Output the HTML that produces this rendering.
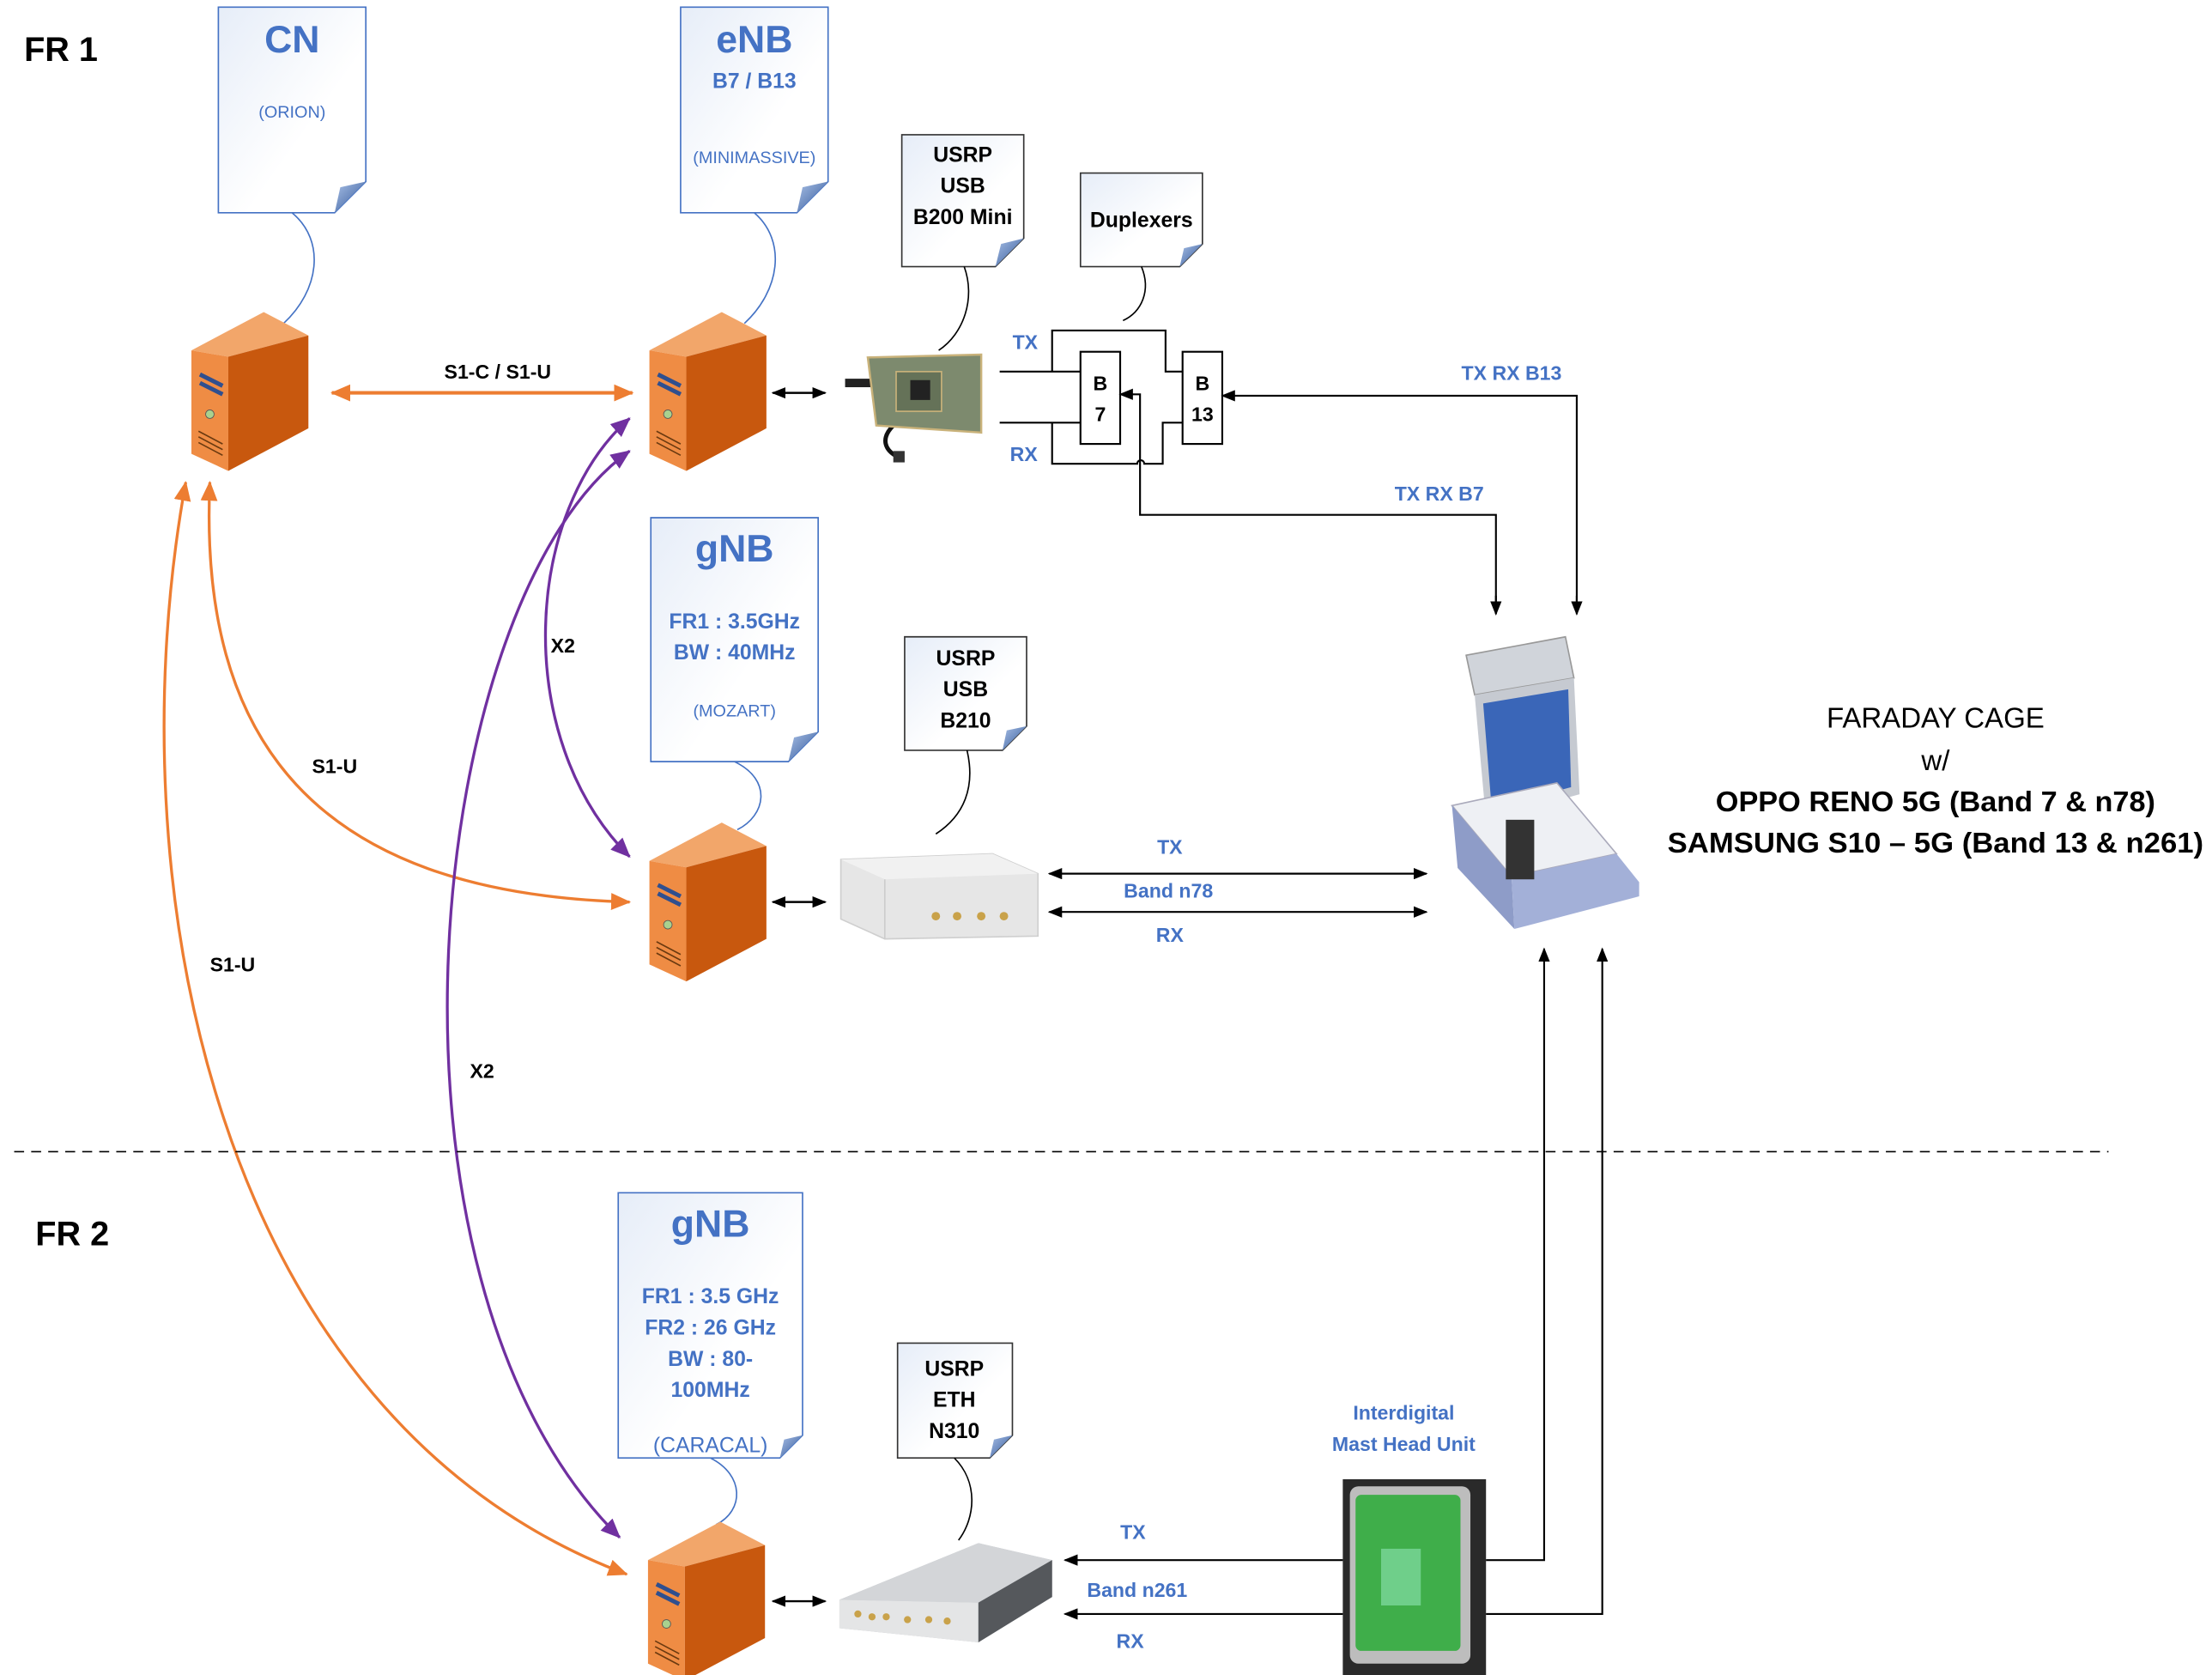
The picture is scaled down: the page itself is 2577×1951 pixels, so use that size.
<!DOCTYPE html>
<html><head><meta charset="utf-8"><style>
html,body{margin:0;padding:0;background:#fff}
svg{display:block}
text{font-family:"Liberation Sans",sans-serif}
.b{fill:#4472c4;font-weight:bold}
.k{fill:#000;font-weight:bold}
</style></head><body>
<svg width="2577" height="1951" viewBox="0 0 1560 1181" xmlns="http://www.w3.org/2000/svg">
<defs>
<linearGradient id="doc" x1="0" y1="0" x2="1" y2="1">
<stop offset="0" stop-color="#e6edf8"/><stop offset="0.6" stop-color="#ffffff"/><stop offset="1" stop-color="#ffffff"/></linearGradient>
<linearGradient id="fold" x1="0" y1="0" x2="1" y2="1"><stop offset="0" stop-color="#a9c0e6"/><stop offset="1" stop-color="#2f5597"/></linearGradient>
<marker id="ak" markerWidth="10" markerHeight="8" refX="9" refY="4" orient="auto-start-reverse" markerUnits="userSpaceOnUse"><path d="M0,0 L10,4 L0,8z" fill="#000"/></marker>
<marker id="ao" markerWidth="14" markerHeight="12" refX="13" refY="6" orient="auto-start-reverse" markerUnits="userSpaceOnUse"><path d="M0,0 L14,6 L0,12z" fill="#ed7d31"/></marker>
<marker id="ap" markerWidth="14" markerHeight="12" refX="13" refY="6" orient="auto-start-reverse" markerUnits="userSpaceOnUse"><path d="M0,0 L14,6 L0,12z" fill="#7030a0"/></marker>
<g id="srv">
<polygon points="51,0 0,27 26,31.5 82.5,16.5" fill="#f2a66a"/>
<polygon points="0,27 26,31.5 26,112 0,100" fill="#ef8c44"/>
<polygon points="26,31.5 82.5,16.5 82.5,82 26,112" fill="#c8580e"/>
<path d="M6,44 L22,52 M6,50 L22,58" stroke="#2f4f8f" stroke-width="3"/>
<circle cx="13" cy="72" r="3" fill="#a9d18e" stroke="#555" stroke-width="0.5"/>
<path d="M5,84 L22,93 M5,88 L22,97 M5,92 L22,101" stroke="#6b3a10" stroke-width="1"/>
</g>
</defs>

<text x="17" y="43" class="k" font-size="24">FR 1</text>
<text x="25" y="878" class="k" font-size="24">FR 2</text>

<g stroke="#4472c4" stroke-width="1">
<path d="M154,5 H258 V128 L236,150 H154 Z" fill="url(#doc)"/>
<path d="M480,5 H584 V128 L562,150 H480 Z" fill="url(#doc)"/>
<path d="M459,365 H577 V516 L556,537 H459 Z" fill="url(#doc)"/>
<path d="M436,841 H566 V1012 L550,1028 H436 Z" fill="url(#doc)"/>
</g>
<g stroke="#333" stroke-width="1">
<path d="M636,95 H722 V168 L702,188 H636 Z" fill="url(#doc)"/>
<path d="M762,122 H848 V172 L832,188 H762 Z" fill="url(#doc)"/>
<path d="M638,449 H724 V512 L707,529 H638 Z" fill="url(#doc)"/>
<path d="M633,947 H714 V1012 L698,1028 H633 Z" fill="url(#doc)"/>
</g>
<g fill="url(#fold)">
<path d="M258,128 L236,150 L240,132 Z"/>
<path d="M584,128 L562,150 L566,132 Z"/>
<path d="M577,516 L556,537 L560,520 Z"/>
<path d="M566,1012 L550,1028 L553,1015 Z"/>
<path d="M722,168 L702,188 L706,172 Z"/>
<path d="M848,172 L832,188 L835,175 Z"/>
<path d="M724,512 L707,529 L710,515 Z"/>
<path d="M714,1012 L698,1028 L701,1015 Z"/>
</g>

<text x="206" y="37" class="b" font-size="27" text-anchor="middle" font-weight="normal">CN</text>
<text x="206" y="83" fill="#4472c4" font-size="12" text-anchor="middle">(ORION)</text>
<text x="532" y="37" class="b" font-size="27" text-anchor="middle">eNB</text>
<text x="532" y="62" class="b" font-size="15" text-anchor="middle">B7 / B13</text>
<text x="532" y="115" fill="#4472c4" font-size="12" text-anchor="middle">(MINIMASSIVE)</text>
<text x="518" y="396" class="b" font-size="27" text-anchor="middle">gNB</text>
<text x="518" y="443" class="b" font-size="15" text-anchor="middle">FR1 : 3.5GHz</text>
<text x="518" y="465" class="b" font-size="15" text-anchor="middle">BW : 40MHz</text>
<text x="518" y="505" fill="#4472c4" font-size="12" text-anchor="middle">(MOZART)</text>
<text x="501" y="872" class="b" font-size="27" text-anchor="middle">gNB</text>
<text x="501" y="919" class="b" font-size="15" text-anchor="middle">FR1 : 3.5 GHz</text>
<text x="501" y="941" class="b" font-size="15" text-anchor="middle">FR2 : 26 GHz</text>
<text x="501" y="963" class="b" font-size="15" text-anchor="middle">BW : 80-</text>
<text x="501" y="985" class="b" font-size="15" text-anchor="middle">100MHz</text>
<text x="501" y="1024" fill="#4472c4" font-size="15" text-anchor="middle">(CARACAL)</text>

<g class="k" font-size="15" text-anchor="middle">
<text x="679" y="114">USRP</text><text x="679" y="136">USB</text><text x="679" y="158">B200 Mini</text>
<text x="805" y="160">Duplexers</text>
<text x="681" y="469">USRP</text><text x="681" y="491">USB</text><text x="681" y="513">B210</text>
<text x="673" y="970">USRP</text><text x="673" y="992">ETH</text><text x="673" y="1014">N310</text>
</g>

<g fill="none" stroke-width="1">
<path d="M206,150 C230,170 225,205 200,228" stroke="#4472c4"/>
<path d="M532,150 C555,170 550,205 525,228" stroke="#4472c4"/>
<path d="M518,537 C545,550 540,575 520,585" stroke="#4472c4"/>
<path d="M501,1028 C525,1040 525,1065 505,1075" stroke="#4472c4"/>
<path d="M680,188 C688,210 680,235 662,247" stroke="#000"/>
<path d="M805,188 C812,205 805,220 792,226" stroke="#000"/>
<path d="M682,529 C688,555 680,575 660,588" stroke="#000"/>
<path d="M673,1028 C690,1045 688,1070 676,1086" stroke="#000"/>
</g>

<use href="#srv" x="135" y="220"/>
<use href="#srv" x="458" y="220"/>
<use href="#srv" x="458" y="580"/>
<use href="#srv" x="457" y="1073"/>

<line x1="234" y1="277" x2="446" y2="277" stroke="#ed7d31" stroke-width="2.5" marker-start="url(#ao)" marker-end="url(#ao)"/>
<text x="351" y="267" class="k" font-size="14" text-anchor="middle">S1-C / S1-U</text>

<g fill="none" stroke-width="2">
<path d="M148,340 C140,520 220,630 444,636" stroke="#ed7d31" marker-start="url(#ao)" marker-end="url(#ao)"/>
<path d="M131,340 C80,620 150,1000 442,1110" stroke="#ed7d31" marker-start="url(#ao)" marker-end="url(#ao)"/>
<path d="M444,295 C370,360 360,520 444,604" stroke="#7030a0" marker-start="url(#ap)" marker-end="url(#ap)"/>
<path d="M444,318 C300,420 250,900 437,1084" stroke="#7030a0" marker-start="url(#ap)" marker-end="url(#ap)"/>
</g>
<g class="k" font-size="14" text-anchor="middle">
<text x="397" y="460">X2</text><text x="236" y="545">S1-U</text><text x="164" y="685">S1-U</text><text x="340" y="760">X2</text>
</g>

<g stroke="#000" stroke-width="1.5">
<line x1="545" y1="277" x2="582" y2="277" marker-start="url(#ak)" marker-end="url(#ak)"/>
<line x1="545" y1="636" x2="582" y2="636" marker-start="url(#ak)" marker-end="url(#ak)"/>
<line x1="545" y1="1129" x2="582" y2="1129" marker-start="url(#ak)" marker-end="url(#ak)"/>
</g>

<path d="M630,300 C620,310 625,318 633,322" stroke="#111" stroke-width="3" fill="none"/>
<rect x="630" y="318" width="8" height="8" fill="#333"/>
<rect x="596" y="267" width="22" height="6" fill="#222"/>
<polygon points="612,252 692,250 692,305 618,300" fill="#7d8a6e" stroke="#c9b27a" stroke-width="1.5"/>
<rect x="632" y="262" width="32" height="28" fill="#657258" stroke="#c9b27a"/>
<rect x="642" y="268" width="14" height="14" fill="#222"/>

<g fill="none" stroke="#000" stroke-width="1.3">
<path d="M705,262 H762 M742,262 V233 H822 V262 H834"/>
<path d="M705,298 H762 M742,298 V327 H802 A2.5,2.5 0 0 1 807,327 H820 V298 H834"/>
<rect x="762" y="248" width="28" height="65" fill="#fff"/>
<rect x="834" y="248" width="28" height="65" fill="#fff"/>
<path d="M1055,432 V363 H804 V278 H790" marker-end="url(#ak)"/>
<path d="M1112,432 V279 H862" marker-end="url(#ak)"/>
<line x1="1055" y1="420" x2="1055" y2="433" marker-end="url(#ak)"/>
<line x1="1112" y1="420" x2="1112" y2="433" marker-end="url(#ak)"/>
</g>
<g class="k" font-size="14" text-anchor="middle">
<text x="776" y="275">B</text><text x="776" y="297">7</text>
<text x="848" y="275">B</text><text x="848" y="297">13</text>
</g>
<g class="b" font-size="14" text-anchor="middle">
<text x="723" y="246">TX</text><text x="722" y="325">RX</text>
<text x="1066" y="268">TX RX B13</text><text x="1015" y="353">TX RX B7</text>
<text x="825" y="602">TX</text><text x="824" y="633">Band n78</text><text x="825" y="664">RX</text>
<text x="799" y="1085">TX</text><text x="802" y="1126">Band n261</text><text x="797" y="1162">RX</text>
<text x="990" y="1001">Interdigital</text><text x="990" y="1023">Mast Head Unit</text>
</g>

<polygon points="593,606 700,602 732,616 732,660 624,662 593,648" fill="#e6e6e6" stroke="#cfcfcf"/>
<polygon points="593,606 700,602 732,616 624,620" fill="#f1f1f1"/>
<line x1="624" y1="620" x2="624" y2="662" stroke="#ccc"/>
<g fill="#c9a24a"><circle cx="660" cy="646" r="3"/><circle cx="675" cy="646" r="3"/><circle cx="692" cy="646" r="3"/><circle cx="708" cy="646" r="3"/></g>
<g stroke="#000" stroke-width="1.3">
<line x1="740" y1="616" x2="1006" y2="616" marker-start="url(#ak)" marker-end="url(#ak)"/>
<line x1="740" y1="643" x2="1006" y2="643" marker-start="url(#ak)" marker-end="url(#ak)"/>
</g>

<!-- Faraday cage -->
<polygon points="1034,462 1104,449 1110,478 1040,490" fill="#d0d4da" stroke="#999"/>
<polygon points="1040,490 1110,478 1114,560 1048,578" fill="#c6cad1"/>
<polygon points="1046,496 1106,486 1108,555 1052,570" fill="#3a66b8"/>
<polygon points="1024,568 1098,552 1140,602 1066,618" fill="#eef0f4" stroke="#aab"/>
<polygon points="1024,568 1066,618 1068,655 1028,612" fill="#8e9cc8"/>
<polygon points="1066,618 1140,602 1156,622 1156,632 1068,655" fill="#a3b0d8"/>
<rect x="1062" y="578" width="20" height="42" fill="#333"/>

<rect x="947" y="1043" width="101" height="142" fill="#2a2a2a"/>
<rect x="952" y="1048" width="85" height="125" rx="6" fill="#bdbdbd"/>
<rect x="956" y="1054" width="74" height="110" rx="4" fill="#3fae4a"/>
<rect x="974" y="1092" width="28" height="40" fill="#6fcf8a"/>
<g fill="none" stroke="#000" stroke-width="1.3">
<path d="M947,1100 H751" marker-end="url(#ak)"/>
<path d="M947,1138 H751" marker-end="url(#ak)"/>
<path d="M1048,1100 H1089 V669" marker-end="url(#ak)"/>
<path d="M1048,1138 H1130 V669" marker-end="url(#ak)"/>
</g>

<polygon points="592,1128 690,1088 742,1100 742,1126 690,1158 592,1148" fill="#bfc2c6"/>
<polygon points="592,1128 690,1088 742,1100 690,1130" fill="#d3d5d8"/>
<polygon points="592,1128 690,1130 690,1158 592,1148" fill="#e4e5e6"/>
<polygon points="690,1130 742,1100 742,1126 690,1158" fill="#55585c"/>
<g fill="#c9a24a"><circle cx="605" cy="1138" r="2.5"/><circle cx="615" cy="1140" r="2.5"/><circle cx="625" cy="1140" r="2.5"/><circle cx="640" cy="1142" r="2.5"/><circle cx="655" cy="1142" r="2.5"/><circle cx="668" cy="1143" r="2.5"/></g>

<line x1="10" y1="812" x2="1487" y2="812" stroke="#000" stroke-width="1" stroke-dasharray="7,5"/>

<text x="1365" y="513" font-size="20" text-anchor="middle">FARADAY CAGE</text>
<text x="1365" y="543" font-size="20" text-anchor="middle">w/</text>
<text x="1365" y="572" font-size="20" font-weight="bold" text-anchor="middle" textLength="310" lengthAdjust="spacingAndGlyphs">OPPO RENO 5G (Band 7 &amp; n78)</text>
<text x="1365" y="601" font-size="20" font-weight="bold" text-anchor="middle" textLength="378" lengthAdjust="spacingAndGlyphs">SAMSUNG S10 – 5G (Band 13 &amp; n261)</text>
</svg>
</body></html>
